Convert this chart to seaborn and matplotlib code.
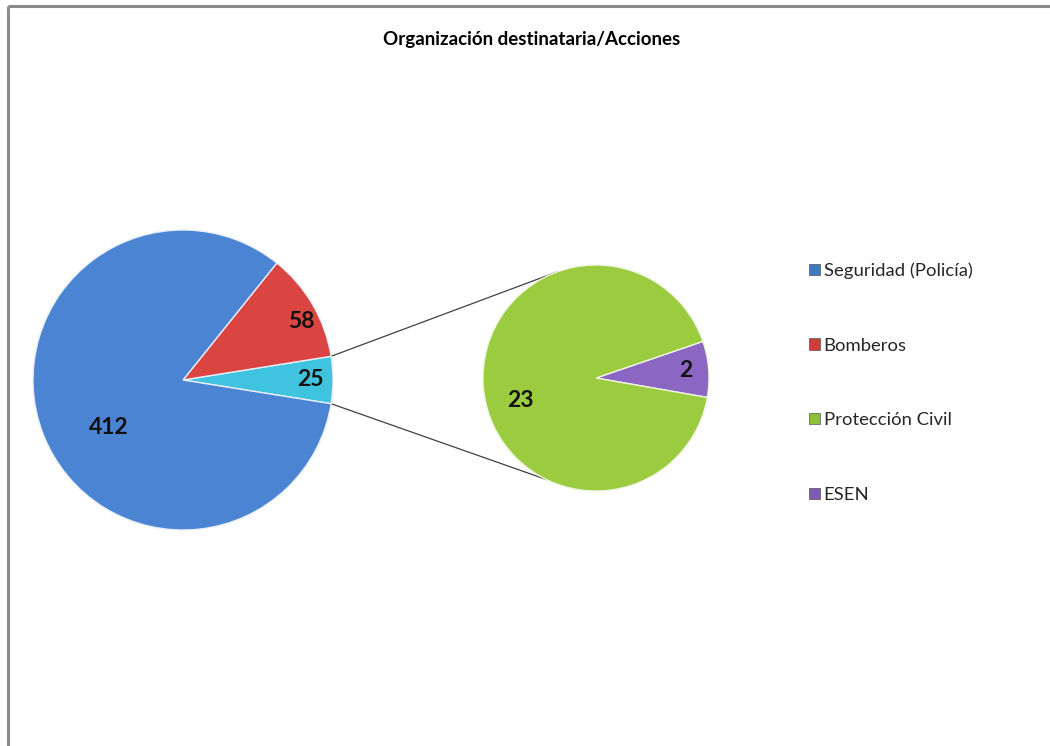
import numpy as np
import matplotlib
matplotlib.use("Agg")
import matplotlib.pyplot as plt
import seaborn as sns
from matplotlib.patches import Patch

sns.set_theme(style="white")
plt.rcParams['font.family'] = ['Lato', 'DejaVu Sans']

# ---- data ----
title = "Organización destinataria/Acciones"
main_labels = ["Seguridad (Policía)", "Bomberos", "Otros"]
main_values = [412, 58, 25]
sub_labels = ["Protección Civil", "ESEN"]
sub_values = [23, 2]
legend_labels = ["Seguridad (Policía)", "Bomberos", "Protección Civil", "ESEN"]

colors_main = ["#4a84d2", "#db4541", "#3fc3df"]
colors_sub = ["#9bcb3e", "#8b66c2"]
legend_colors = ["#3f79c6", "#d03c3a", "#8fbf3a", "#7e5bb5"]

W, H = 1050, 746
fig = plt.figure(figsize=(W / 100, H / 100), dpi=100)
ax = fig.add_axes([0, 0, 1, 1])

main_c = (183, H - 380)
main_r = 150
sub_c = (596, H - 378)
sub_r = 113

# main pie: "Otros" slice centered on 0 deg
other_ang = main_values[2] / sum(main_values) * 360
start_main = -other_ang / 2
order_main = [2, 1, 0]
wm, _ = ax.pie([main_values[i] for i in order_main], colors=[colors_main[i] for i in order_main],
               startangle=start_main, counterclock=True, center=main_c, radius=main_r,
               frame=True, wedgeprops=dict(edgecolor="#e8eef7", linewidth=1.0))

# secondary pie: ESEN slice near 0 deg
esen_ang = sub_values[1] / sum(sub_values) * 360
start_sub = -esen_ang / 2 + 4.5
order_sub = [1, 0]
ws, _ = ax.pie([sub_values[i] for i in order_sub], colors=[colors_sub[i] for i in order_sub],
               startangle=start_sub, counterclock=True, center=sub_c, radius=sub_r,
               frame=True, wedgeprops=dict(edgecolor="#eef5e0", linewidth=1.0))

def place(wedge, center, r, frac, val, dang=0.0):
    mid = np.deg2rad((wedge.theta1 + wedge.theta2) / 2 + dang)
    x = center[0] + frac * r * np.cos(mid)
    y = center[1] + frac * r * np.sin(mid)
    ax.text(x, y, str(val), ha="center", va="center", fontsize=16.5,
            fontweight="bold", color="#111111")

# labels
place(wm[0], main_c, main_r, 0.85, main_values[2])
place(wm[1], main_c, main_r, 0.88, main_values[1], -4)
place(wm[2], main_c, main_r, 0.59, main_values[0], 11.5)
place(ws[0], sub_c, sub_r, 0.80, sub_values[1])
place(ws[1], sub_c, sub_r, 0.70, sub_values[0], 12)

# connector lines
w_other = wm[0]
for th_main, th_sub in [(w_other.theta2, 110), (w_other.theta1, 244)]:
    a = np.deg2rad(th_main)
    b = np.deg2rad(th_sub)
    ax.plot([main_c[0] + main_r * np.cos(a), sub_c[0] + sub_r * np.cos(b)],
            [main_c[1] + main_r * np.sin(a), sub_c[1] + sub_r * np.sin(b)],
            color="#404040", lw=0.9, zorder=0)

ax.set_xlim(0, W)
ax.set_ylim(0, H)
ax.set_aspect("equal")
ax.axis("off")

# chart border (top and left visible)
ax.plot([7.5, W], [H - 5.5, H - 5.5], color="#8a8a8a", lw=2.2, solid_capstyle="butt")
ax.plot([7.5, 7.5], [0, H - 5.5], color="#8a8a8a", lw=2.2, solid_capstyle="butt")

fig.text(532 / W, 1 - 40 / H, title, ha="center", va="center", fontsize=13.5, fontweight="bold",
         color="#000000")

handles = [Patch(facecolor=c, edgecolor="#555555", linewidth=0.5) for c in legend_colors]
leg = fig.legend(handles, legend_labels, loc="upper left", bbox_to_anchor=(802 / W, 1 - 255 / H),
                 frameon=False, fontsize=13.3, handlelength=0.55, handleheight=0.55,
                 handletextpad=0.22, labelspacing=3.17, borderaxespad=0)

fig.savefig("out.png", dpi=100, facecolor="white")
